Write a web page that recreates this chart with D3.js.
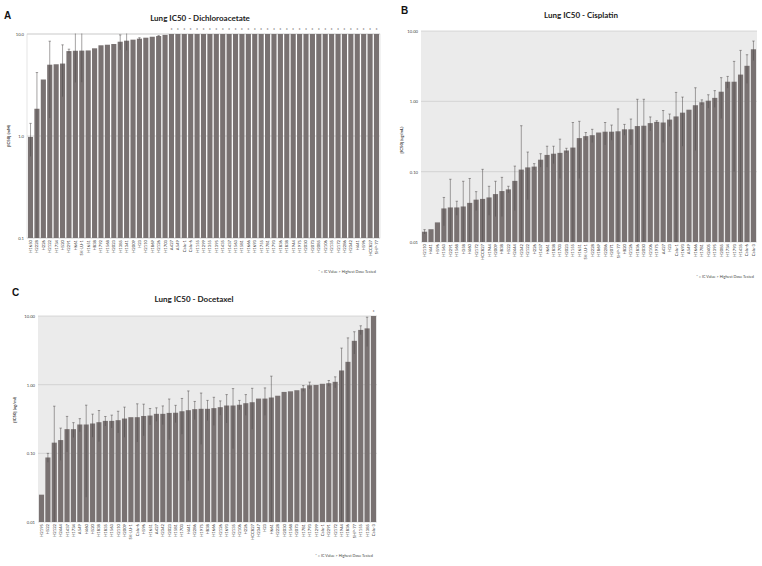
<!DOCTYPE html>
<html><head><meta charset="utf-8">
<script src="https://cdn.jsdelivr.net/npm/d3@7"></script>
<style>body{margin:0;background:#fff}svg{display:block}</style>
</head><body><svg id="chart" width="762" height="566"></svg>
<script>
// ---------- Panel A: Dichloroacetate ----------
const namesA = ["H1650","H2228","H226","H2122","H1734","H520","H2291","H661","SK-LU-1","H1651","H838","H1792","H1568","H2023","H1385","H1341","H2009","H23","H2110","H1869","H2126","H1703","A427","A549","Calu-1","Calu-6","H1155","H1299","H1355","H1395","H1435","H1437","H1563","H1581","H1666","H1693","H1755","H1781","H1793","H1836","H1838","H1944","H1975","H2030","H2073","H2085","H2106","H2135","H2172","H2286","H2342","H441","H596","HCC827","SHP-77"];
const valuesA = [0.98,1.85,3.58,5.0,5.05,5.13,6.8,6.85,6.87,6.9,7.24,7.75,7.85,7.98,8.4,8.6,8.8,9.0,9.2,9.4,9.55,9.8,10,10,10,10,10,10,10,10,10,10,10,10,10,10,10,10,10,10,10,10,10,10,10,10,10,10,10,10,10,10,10,10,10];
const errorsA = [0.35,2.34,0,3.5,0,2.7,0.3,3.5,3.5,0,0,0,0,0,1.4,1.7,0,0.2,0,0,0.1,0,0,0,0,0,0,0,0,0,0,0,0,0,0,0,0,0,0,0,0,0,0,0,0,0,0,0,0,0,0,0,0,0,0];
const ticksA = [0.1, 1, 10];
const maxDoseA = 10;

// ---------- Panel B: Cisplatin ----------
const namesB = ["H2110","H441","H596","H1563","H2291","H1568","H358","H460","H2172","HCC827","H1944","H2009","H838","H522","H2444","H2342","H2122","H226","H1437","H661","H1838","H1703","H2023","H1155","H1651","SK-LU-1","H2228","H1869","H2286","H2071","SHP-77","H820","H2126","H1836","H2030","H2106","H1975","A427","H23","Calu-1","H1693","A549","H1666","H1781","H2405","H1395","H2085","H1734","H1793","H1435","Calu-6","Calu-3"];
const valuesB = [0.014,0.0152,0.019,0.030,0.031,0.031,0.032,0.036,0.040,0.041,0.043,0.048,0.053,0.056,0.074,0.107,0.115,0.118,0.148,0.173,0.18,0.185,0.2,0.22,0.30,0.32,0.33,0.36,0.37,0.37,0.375,0.40,0.40,0.445,0.45,0.49,0.51,0.50,0.55,0.61,0.69,0.76,0.88,0.97,1.02,1.12,1.37,1.9,1.9,2.4,3.2,5.5];
const errorsB = [0.001,0,0,0.013,0.047,0.007,0.041,0.044,0.012,0.067,0.019,0.025,0.03,0.006,0.046,0.343,0.075,0.012,0.032,0.057,0.05,0.105,0.015,0.28,0.22,0.04,0.07,0,0.13,0.09,0.405,0.07,0.16,0.625,0.62,0.11,0.02,0.24,0.11,0.73,0.46,0,0.68,0.08,0.22,0.30,0.8,0.36,1.8,2.9,1.4,1.7];
const ticksB = [0.01, 0.1, 1, 10];
const maxDoseB = 100;

// ---------- Panel C: Docetaxel ----------
const namesC = ["H2195","H522","H2122","H2444","H1437","H1734","A549","H460","H520","H1838","H1835","H1563","H2110","H2009","SK-LU-1","Calu-6","H596","H1651","A427","H2342","H2023","H1581","H1703","H441","H2286","H1975","H838","H1666","H2126","H1693","H2135","H2106","H226","HCC827","H2347","H23","H661","H2228","H2030","H1568","H2073","H1781","H1793","H1299","Calu-1","H2291","H2172","H1944","H1836","SHP-77","H1155","H1385","Calu-3"];
const valuesC = [0.025,0.087,0.143,0.156,0.225,0.225,0.263,0.263,0.272,0.284,0.297,0.297,0.304,0.321,0.336,0.336,0.35,0.355,0.376,0.376,0.388,0.39,0.41,0.425,0.44,0.445,0.445,0.455,0.47,0.497,0.497,0.51,0.537,0.555,0.627,0.627,0.65,0.69,0.784,0.80,0.83,0.885,0.98,0.99,1.03,1.05,1.10,1.61,2.15,4.35,6.27,6.6,10];
const errorsC = [0,0.013,0.343,0.077,0.12,0.055,0.057,0.24,0.1,0.136,0.047,0.063,0.106,0.15,0,0.19,0.17,0.095,0.084,0.114,0.23,0.11,0.22,0.385,0.13,0.31,0.145,0.2,0.11,0.22,0.38,0.08,0.18,0.33,0,0.27,0.68,0,0,0,0,0.085,0.11,0,0,0.1,0.2,1.8,2.65,1.55,0.93,3.0,0];
const ticksC = [0.01, 0.1, 1, 10];
const maxDoseC = 10;

const footnote = "* = IC Value > Highest Dose Tested";
const BAR = "#797272";
const FONT = "Lato, 'Open Sans', 'Liberation Sans', sans-serif";

const svg = d3.select("#chart");

function panel(o) {
  const g = svg.append("g");
  const x = d3.scaleBand().domain(o.names).range([o.x0, o.x1]).paddingInner(0.2).paddingOuter(0.15);
  const y = d3.scaleLog().domain(o.domain).range([o.y1, o.y0]);
  const clipId = "clip" + o.letter;
  svg.append("defs").append("clipPath").attr("id", clipId)
    .append("rect").attr("x", o.x0).attr("y", o.y0 - 0.5).attr("width", o.x1 - o.x0).attr("height", o.y1 - o.y0 + 1);

  g.append("rect").attr("x", o.x0).attr("y", o.y0).attr("width", o.x1 - o.x0).attr("height", o.y1 - o.y0)
    .attr("fill", o.bg).attr("stroke", o.border).attr("stroke-width", 0.6);

  g.selectAll("line.grid").data(o.ticks).join("line").attr("class", "grid")
    .attr("x1", o.x0).attr("x2", o.x1).attr("y1", d => y(d)).attr("y2", d => y(d))
    .attr("stroke", "#c4c4c4").attr("stroke-width", 0.6);

  const data = o.names.map((n, i) => ({ n, v: o.values[i], e: o.errors[i] }));

  g.selectAll("rect.bar").data(data).join("rect").attr("class", "bar")
    .attr("x", d => x(d.n)).attr("width", x.bandwidth())
    .attr("y", d => y(Math.min(d.v, o.domain[1]))).attr("height", d => o.y1 - y(Math.min(d.v, o.domain[1])))
    .attr("fill", BAR);

  const eg = g.append("g").attr("clip-path", `url(#${clipId})`);
  const withErr = data.filter(d => d.e > 0);
  const cx = d => x(d.n) + x.bandwidth() / 2;
  const lo = d => y(Math.max(d.v - d.e, o.domain[0]));
  const hi = d => y(d.v + d.e);
  eg.selectAll("line.ev").data(withErr).join("line").attr("class", "ev")
    .attr("x1", cx).attr("x2", cx).attr("y1", lo).attr("y2", hi)
    .attr("stroke", "#4a4646").attr("stroke-width", 0.5);
  eg.selectAll("line.cap").data(withErr).join("line").attr("class", "cap")
    .attr("x1", d => cx(d) - 1.2).attr("x2", d => cx(d) + 1.2).attr("y1", hi).attr("y2", hi)
    .attr("stroke", "#4a4646").attr("stroke-width", 0.5);

  // asterisks for values at the highest dose tested
  g.selectAll("text.star").data(data.filter(d => d.v >= o.maxDose)).join("text").attr("class", "star")
    .attr("x", cx).attr("y", o.y0 - 2.5).attr("text-anchor", "middle")
    .attr("font-family", FONT).attr("font-size", 5).attr("fill", "#333").text("*");

  // y axis
  const ya = g.append("g").attr("transform", `translate(${o.x0},0)`)
    .call(d3.axisLeft(y).tickValues(o.ticks).tickFormat(d3.format(o.fmt)).tickSize(0).tickPadding(3));
  ya.select(".domain").remove();
  ya.selectAll("text").attr("font-family", FONT).attr("font-size", 4.2).attr("fill", "#444");

  // x axis (rotated labels)
  const xa = g.append("g").attr("transform", `translate(0,${o.y1})`)
    .call(d3.axisBottom(x).tickSize(0).tickPadding(2));
  xa.select(".domain").remove();
  xa.selectAll("text").attr("font-family", FONT).attr("font-size", 4.2).attr("fill", "#333")
    .attr("text-anchor", "end").attr("dy", "0.35em")
    .attr("transform", "rotate(-90)").attr("x", -2).attr("y", 0);

  // titles
  g.append("text").attr("x", o.lx).attr("y", o.ly).attr("font-family", "'Liberation Sans', Arial, sans-serif")
    .attr("font-weight", "bold").attr("font-size", 10).attr("fill", "#111").text(o.letter);
  g.append("text").attr("x", o.tx).attr("y", o.ty).attr("text-anchor", "middle")
    .attr("font-family", FONT).attr("font-weight", "bold").attr("font-size", 8).attr("fill", "#222").text(o.title);
  g.append("text").attr("transform", `translate(${o.yx},${o.yy}) rotate(-90)`).attr("text-anchor", "middle")
    .attr("font-family", FONT).attr("font-weight", "bold").attr("font-size", 4.2).attr("fill", "#333").text(o.ytitle);
  g.append("text").attr("x", o.fx).attr("y", o.fy).attr("text-anchor", "end")
    .attr("font-family", FONT).attr("font-size", 3.8).attr("fill", "#444").text(footnote);
}

panel({ letter: "A", names: namesA, values: valuesA, errors: errorsA, ticks: ticksA, maxDose: maxDoseA,
  domain: [0.1, 10], fmt: ".1f", x0: 27, x1: 380, y0: 34, y1: 238, bg: "#ffffff", border: "#d4d4d4",
  lx: 4, ly: 19, tx: 200, ty: 21, title: "Lung IC50 - Dichloroacetate", ytitle: "[IC50] (mM)", yx: 10, yy: 136,
  fx: 376, fy: 273 });

panel({ letter: "B", names: namesB, values: valuesB, errors: errorsB, ticks: ticksB, maxDose: maxDoseB,
  domain: [0.01, 10], fmt: ".2f", x0: 421, x1: 757, y0: 31, y1: 242, bg: "#ebebeb", border: "none",
  lx: 401, ly: 14, tx: 581, ty: 18, title: "Lung IC50 - Cisplatin", ytitle: "[IC50] (ug/mL)", yx: 403, yy: 140,
  fx: 754, fy: 278 });

panel({ letter: "C", names: namesC, values: valuesC, errors: errorsC, ticks: ticksC, maxDose: maxDoseC,
  domain: [0.01, 10], fmt: ".2f", x0: 38, x1: 377, y0: 316, y1: 522, bg: "#ebebeb", border: "none",
  lx: 12, ly: 296, tx: 194, ty: 302, title: "Lung IC50 - Docetaxel", ytitle: "[IC50] (ug/ml)", yx: 16, yy: 410,
  fx: 373, fy: 557 });
</script></body></html>
